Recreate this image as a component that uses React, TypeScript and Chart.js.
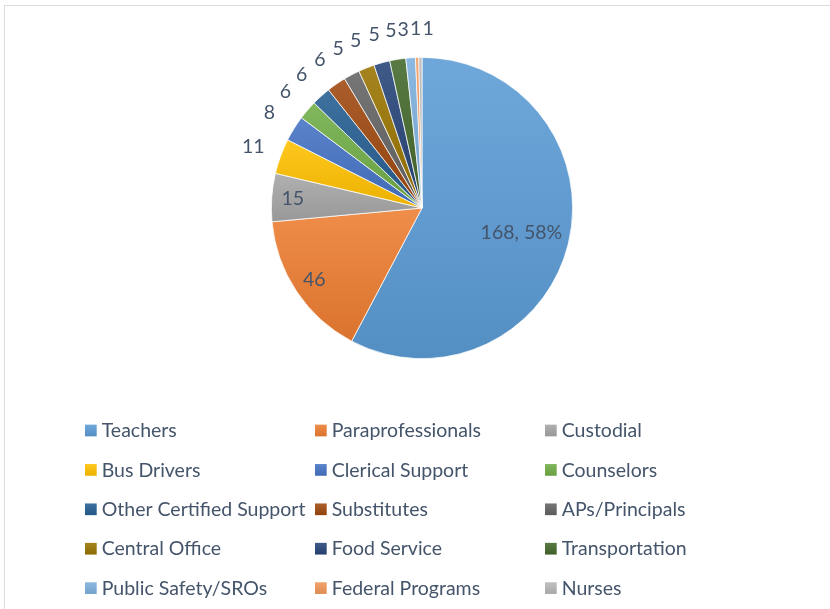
import React, { useEffect, useRef } from "react";
import { Chart, registerables } from "chart.js";

Chart.register(...registerables);

const categories = [
  "Teachers",
  "Paraprofessionals",
  "Custodial",
  "Bus Drivers",
  "Clerical Support",
  "Counselors",
  "Other Certified Support",
  "Substitutes",
  "APs/Principals",
  "Central Office",
  "Food Service",
  "Transportation",
  "Public Safety/SROs",
  "Federal Programs",
  "Nurses",
];

const staffCounts = [168, 46, 15, 11, 8, 6, 6, 6, 5, 5, 5, 5, 3, 1, 1];

const sliceColors = [
  "#5B9BD5",
  "#ED7D31",
  "#A5A5A5",
  "#FFC000",
  "#4472C4",
  "#70AD47",
  "#255E91",
  "#9E480E",
  "#636363",
  "#997300",
  "#264478",
  "#43682B",
  "#7CAFDD",
  "#F1975A",
  "#B7B7B7",
];

const TEXT_COLOR = "#44546A";
const FONT_FAMILY = "Lato, 'Open Sans', sans-serif";
const FONT_SIZE = 19.5;
const BORDER_W = 0.75;

function shade(hex: string, amt: number): string {
  const n = parseInt(hex.slice(1), 16);
  const r = n >> 16,
    g = (n >> 8) & 255,
    b = n & 255;
  const f = (c: number) =>
    amt >= 0 ? Math.round(c + (255 - c) * amt) : Math.round(c * (1 + amt));
  return `rgb(${f(r)},${f(g)},${f(b)})`;
}

function sliceFill(ctx: any) {
  const i = ctx.dataIndex;
  if (i === undefined || i === null) return sliceColors[0];
  const base = sliceColors[i % sliceColors.length];
  const chart = ctx.chart;
  const area = chart.chartArea;
  if (!area) return base;
  const data: number[] = ctx.dataset.data;
  const total = data.reduce((s, v) => s + v, 0);
  const cx = (area.left + area.right) / 2;
  const cy = (area.top + area.bottom) / 2;
  const R = (Math.min(area.right - area.left, area.bottom - area.top) - BORDER_W) / 2;
  let before = 0;
  for (let k = 0; k < i; k++) before += data[k];
  const a0 = (before / total) * Math.PI * 2 - Math.PI / 2;
  const a1 = ((before + data[i]) / total) * Math.PI * 2 - Math.PI / 2;
  const ys = [cy, cy + R * Math.sin(a0), cy + R * Math.sin(a1)];
  [-Math.PI / 2, Math.PI / 2, (3 * Math.PI) / 2].forEach((t) => {
    if (t >= a0 && t <= a1) ys.push(cy + R * Math.sin(t));
  });
  const y0 = Math.min(...ys);
  const y1 = Math.max(...ys);
  if (y1 - y0 < 1) return base;
  const g = chart.ctx.createLinearGradient(0, y0, 0, y1);
  g.addColorStop(0, shade(base, 0.12));
  g.addColorStop(1, shade(base, -0.08));
  return g;
}

const sliceLabelPlugin = {
  id: "sliceLabels",
  afterDatasetsDraw(chart: any) {
    const meta = chart.getDatasetMeta(0);
    const data: number[] = chart.data.datasets[0].data;
    const total = data.reduce((s, v) => s + v, 0);
    const ctx = chart.ctx;
    ctx.save();
    ctx.font = `${FONT_SIZE}px ${FONT_FAMILY}`;
    ctx.fillStyle = TEXT_COLOR;
    ctx.textAlign = "center";
    ctx.textBaseline = "middle";

    const outside: { i: number; mid: number; ang: number }[] = [];
    let cx = 0,
      cy = 0,
      R = 0;
    meta.data.forEach((arc: any, i: number) => {
      const p = arc.getProps(["startAngle", "endAngle", "x", "y", "outerRadius"], true);
      cx = p.x;
      cy = p.y;
      R = p.outerRadius;
      const mid = (p.startAngle + p.endAngle) / 2;
      const v = data[i];
      const share = v / total;
      if (i === 0) {
        const txt = `${v}, ${Math.round(share * 100)}%`;
        ctx.fillText(txt, p.x + Math.cos(mid) * R * 0.68, p.y + Math.sin(mid) * R * 0.68);
      } else if (share >= 0.05) {
        ctx.fillText(String(v), p.x + Math.cos(mid) * R * 0.86, p.y + Math.sin(mid) * R * 0.86);
      } else {
        outside.push({ i, mid, ang: mid });
      }
    });

    // spread crowded outside labels evenly (relaxation in both directions)
    const rOut = R + 29;
    const gap = 12.5 / rOut;
    for (let it = 0; it < 300; it++) {
      for (let k = 0; k < outside.length - 1; k++) {
        const d = outside[k + 1].ang - outside[k].ang;
        if (d < gap) {
          const push = (gap - d) / 2;
          outside[k].ang -= push;
          outside[k + 1].ang += push;
        }
      }
    }
    outside.forEach((o) => {
      ctx.fillText(String(data[o.i]), cx + Math.cos(o.ang) * rOut, cy + Math.sin(o.ang) * rOut);
    });
    ctx.restore();
  },
};

const gridLegendPlugin = {
  id: "gridLegend",
  afterDraw(chart: any) {
    const ctx = chart.ctx;
    const labels: string[] = chart.data.labels;
    const colX = [85, 315, 545];
    const rowY0 = 430.5;
    const rowStep = 39.4;
    const key = 11.7;
    ctx.save();
    ctx.font = `${FONT_SIZE}px ${FONT_FAMILY}`;
    ctx.textAlign = "left";
    ctx.textBaseline = "middle";
    labels.forEach((lab, i) => {
      const col = i % 3;
      const row = Math.floor(i / 3);
      const x = colX[col];
      const y = rowY0 + row * rowStep;
      const base = sliceColors[i % sliceColors.length];
      const g = ctx.createLinearGradient(0, y - key / 2, 0, y + key / 2);
      g.addColorStop(0, shade(base, 0.12));
      g.addColorStop(1, shade(base, -0.08));
      ctx.fillStyle = g;
      ctx.fillRect(x, y - key / 2, key, key);
      ctx.fillStyle = TEXT_COLOR;
      ctx.fillText(lab, x + 16.7, y + 0.5);
    });
    ctx.restore();
  },
};

export default function App() {
  const canvasRef = useRef<HTMLCanvasElement | null>(null);

  useEffect(() => {
    const canvas = canvasRef.current;
    if (!canvas) return;
    const chart = new Chart(canvas, {
      type: "pie",
      data: {
        labels: categories,
        datasets: [
          {
            data: staffCounts,
            backgroundColor: sliceFill as any,
            borderColor: "#ffffff",
            borderWidth: BORDER_W,
          },
        ],
      },
      options: {
        responsive: false,
        animation: false,
        devicePixelRatio: 1,
        layout: { padding: { top: 57, bottom: 250, left: 14, right: 0 } },
        plugins: {
          legend: { display: false },
          tooltip: { enabled: false },
          title: { display: false },
        },
      },
      plugins: [sliceLabelPlugin, gridLegendPlugin],
    });
    return () => chart.destroy();
  }, []);

  return (
    <div
      style={{
        position: "fixed",
        left: 0,
        top: 0,
        width: 830,
        height: 609,
        overflow: "hidden",
        background: "#ffffff",
      }}
    >
      <div
        style={{
          position: "absolute",
          left: 4,
          top: 5,
          width: 840,
          height: 620,
          border: "1px solid #d9dde3",
        }}
      />
      <canvas
        ref={canvasRef}
        width={830}
        height={609}
        style={{ position: "absolute", left: 0, top: 0, width: 830, height: 609 }}
      />
    </div>
  );
}
